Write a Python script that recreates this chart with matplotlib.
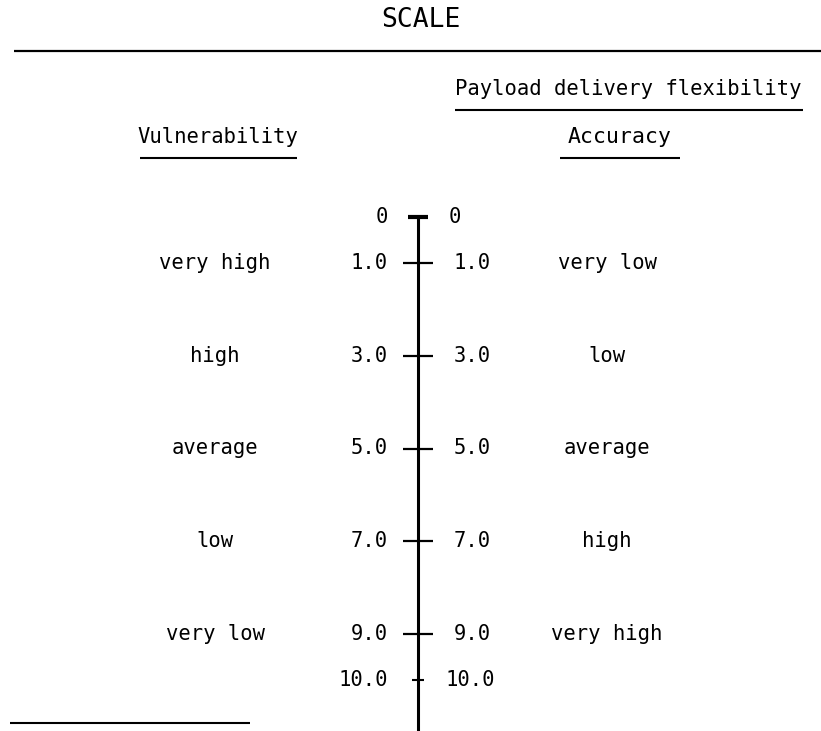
import matplotlib
matplotlib.use("Agg")
import matplotlib.pyplot as plt

# ---- data ----
scale_values = [0, 1.0, 3.0, 5.0, 7.0, 9.0, 10.0]
scale_labels = ["0", "1.0", "3.0", "5.0", "7.0", "9.0", "10.0"]
rating_values = [1.0, 3.0, 5.0, 7.0, 9.0]
vulnerability_labels = ["very high", "high", "average", "low", "very low"]
accuracy_labels = ["very low", "low", "average", "high", "very high"]

title = "SCALE"
left_header = "Vulnerability"
right_header_top = "Payload delivery flexibility"
right_header = "Accuracy"

FONT = "DejaVu Sans Mono"
W, H = 821, 731

fig = plt.figure(figsize=(W / 100, H / 100), dpi=100)
fig.patch.set_facecolor("white")

# decoration axes in pixel coordinates
deco = fig.add_axes([0, 0, 1, 1])
deco.set_xlim(0, W)
deco.set_ylim(H, 0)
deco.axis("off")

# scale axes: y in scale units (0 at top, 10 lower), x in pixels
px_per_unit = 46.3
y0_px = 217
ax = fig.add_axes([0, 0, 1, 1], facecolor="none")
ax.set_xlim(0, W)
ax.set_ylim((H - y0_px) / px_per_unit, -y0_px / px_per_unit)
ax.axis("off")

axis_x = 418

# title and rules
deco.text(421, 20, title, family=FONT, fontsize=19, ha="center", va="center")
deco.plot([14, W], [51, 51], color="black", lw=1.6, solid_capstyle="butt")

deco.text(455, 89, right_header_top, family=FONT, fontsize=14.8, ha="left", va="center")
deco.plot([455, 803], [110, 110], color="black", lw=1.5, solid_capstyle="butt")

deco.text(218, 137, left_header, family=FONT, fontsize=14.8, ha="center", va="center")
deco.plot([140, 297], [158, 158], color="black", lw=1.5, solid_capstyle="butt")

deco.text(620, 137, right_header, family=FONT, fontsize=15.5, ha="center", va="center")
deco.plot([560, 680], [158, 158], color="black", lw=1.5, solid_capstyle="butt")

deco.plot([10, 250], [723, 723], color="black", lw=1.5, solid_capstyle="butt")

# vertical scale axis
ax.plot([axis_x, axis_x], [scale_values[0], ax.get_ylim()[0]], color="black",
        lw=2.2, solid_capstyle="butt")

for v, lab in zip(scale_values, scale_labels):
    if v == scale_values[0]:
        half, lw = 10, 3.0
    elif v == scale_values[-1]:
        half, lw = 6, 1.5
    else:
        half, lw = 15, 1.6
    ax.plot([axis_x - half, axis_x + half], [v, v], color="black", lw=lw,
            solid_capstyle="butt")
    ax.text(388, v, lab, family=FONT, fontsize=14.8, ha="right", va="center")
    ax.text(axis_x + half + 21, v, lab, family=FONT, fontsize=14.8, ha="left", va="center")

for v, lab in zip(rating_values, vulnerability_labels):
    ax.text(215, v, lab, family=FONT, fontsize=14.8, ha="center", va="center")
for v, lab in zip(rating_values, accuracy_labels):
    ax.text(607, v, lab, family=FONT, fontsize=14.8, ha="center", va="center")

fig.savefig("out.png", dpi=100, facecolor="white")
